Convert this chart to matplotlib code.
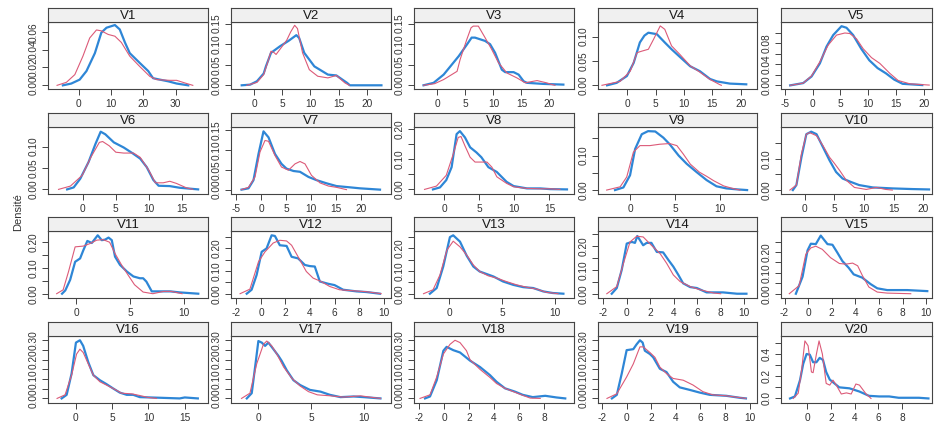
import matplotlib
matplotlib.use("Agg")
import matplotlib.pyplot as plt
import numpy as np

plt.rcParams['font.family'] = ['Liberation Sans', 'DejaVu Sans']

# ---------------- data: (x, density) pairs ----------------
v1_blue = [(-4.9,0),(-2.3,0.002),(0.3,0.0064),(2.4,0.016),(5.0,0.036),(7.0,0.059),(8.6,0.0645),(11.2,0.0675),(12.7,0.0626),(14.3,0.048),(15.8,0.036),(18.9,0.025),(21.5,0.016),(23.0,0.008),(25.1,0.0064),(27.7,0.0045),(30.3,0.002),(33.9,0)]
v1_red = [(-6.7,0),(-3.8,0.0034),(-1.2,0.012),(1.3,0.0326),(3.4,0.053),(5.5,0.062),(7.0,0.061),(9.1,0.057),(11.2,0.055),(13.2,0.048),(15.8,0.0326),(18.9,0.021),(22.0,0.010),(24.1,0.0064),(28.2,0.0056),(30.3,0.0056),(32.9,0.0026),(35.3,0)]

v2_blue = [(-2.2,0),(-0.7,0.0016),(0.5,0.0098),(1.7,0.0286),(2.1,0.046),(3.0,0.079),(4.6,0.095),(6.1,0.108),(7.5,0.122),(8.0,0.115),(8.9,0.079),(10.7,0.046),(13.1,0.026),(14.6,0.024),(16.5,0.006),(17.0,0),(22.6,0)]
v2_red = [(-1.3,0),(0.5,0.007),(1.7,0.026),(2.5,0.06),(3.0,0.083),(3.5,0.08),(3.9,0.075),(5.0,0.095),(5.8,0.11),(6.5,0.13),(7.2,0.146),(7.7,0.138),(8.6,0.079),(9.8,0.038),(11.3,0.022),(13.1,0.018),(14.6,0.024),(16.1,0.006),(16.9,0)]

v3_blue = [(-2.5,0),(-0.7,0.006),(1.1,0.026),(2.3,0.046),(3.8,0.071),(5.3,0.1),(6.1,0.116),(6.7,0.116),(8.5,0.108),(9.4,0.10),(10.3,0.079),(11.5,0.038),(12.1,0.032),(13.6,0.032),(14.5,0.026),(15.4,0.0098),(16.0,0.006),(18.9,0.0034),(22.5,0.0017)]
v3_red = [(-2.5,0),(-0.5,0.004),(1.1,0.014),(3.5,0.034),(4.05,0.063),(5.25,0.112),(6.0,0.14),(6.4,0.144),(7.3,0.144),(8.5,0.116),(9.7,0.087),(10.9,0.055),(12.4,0.030),(14.2,0.018),(15.7,0.006),(16.8,0.009),(17.8,0.0115),(19.5,0.006),(20.4,0.002),(21.0,0)]

v4_blue = [(-3.6,0),(-1.9,0.005),(-0.1,0.019),(1.1,0.046),(2.2,0.088),(3.0,0.102),(3.7,0.108),(5.2,0.105),(6.6,0.088),(7.8,0.074),(9.3,0.058),(11.1,0.039),(12.8,0.029),(14.6,0.013),(15.8,0.008),(18.1,0.0035),(21.0,0.002)]
v4_red = [(-4.5,0),(-1.3,0.008),(0.5,0.029),(1.7,0.067),(2.5,0.07),(3.7,0.074),(4.6,0.094),(5.8,0.122),(6.6,0.115),(7.8,0.081),(9.3,0.063),(11.1,0.04),(12.8,0.027),(14.6,0.012),(16.3,0.0015),(16.6,0)]

v5_blue = [(-4.05,0),(-1.7,0.0044),(-0.2,0.017),(1.3,0.042),(2.5,0.074),(3.7,0.096),(5.2,0.113),(6.1,0.110),(7.3,0.096),(8.75,0.070),(10.2,0.048),(11.7,0.033),(13.2,0.023),(14.7,0.011),(16.2,0.003),(19.75,0.0006)]
v5_red = [(-4.05,0),(-1.7,0.0044),(-0.2,0.018),(1.3,0.045),(2.8,0.077),(4.3,0.096),(5.8,0.10),(6.7,0.099),(7.9,0.089),(9.1,0.070),(10.6,0.053),(12.1,0.042),(13.9,0.023),(15.4,0.0094),(17.5,0.003),(21.0,0.0006)]

v6_blue = [(-2.4,0),(-1.4,0.0046),(-0.4,0.025),(0.86,0.064),(1.9,0.106),(2.7,0.135),(3.4,0.129),(4.7,0.11),(6.2,0.098),(7.5,0.085),(8.7,0.072),(9.7,0.052),(10.7,0.022),(11.5,0.0085),(13.2,0.0077),(14.7,0.0038),(17.5,0)]
v6_red = [(-3.7,0),(-1.9,0.0077),(-0.1,0.033),(1.2,0.075),(2.5,0.11),(3.0,0.112),(4.0,0.102),(5.0,0.087),(6.2,0.085),(7.7,0.085),(8.7,0.075),(10.0,0.045),(11.0,0.0154),(12.2,0.0154),(13.2,0.019),(14.2,0.014),(15.7,0.0038),(16.7,0)]

v7_blue = [(-3.9,0),(-2.5,0.0033),(-1.5,0.024),(-0.5,0.090),(0.5,0.147),(1.5,0.132),(2.8,0.090),(4.1,0.065),(5.1,0.053),(6.5,0.047),(7.8,0.045),(9.5,0.032),(11.1,0.024),(13.1,0.016),(15.1,0.009),(17.8,0.0058),(19.8,0.0033),(23.8,0)]
v7_red = [(-3.9,0),(-2.5,0.0058),(-1.2,0.032),(-0.2,0.095),(0.8,0.124),(1.5,0.122),(2.8,0.086),(4.1,0.057),(5.5,0.049),(6.8,0.065),(7.8,0.071),(8.8,0.065),(10.1,0.036),(11.8,0.017),(13.5,0.009),(15.1,0.0058),(17.1,0)]

v8_blue = [(-1.6,0),(-0.6,0.0066),(0.3,0.031),(1.06,0.074),(1.77,0.184),(2.24,0.194),(2.96,0.173),(3.7,0.14),(4.6,0.123),(5.3,0.107),(6.3,0.074),(7.5,0.058),(8.9,0.025),(9.9,0.011),(11.8,0.0033),(13.7,0.0033),(15.1,0.001),(17.5,0)]
v8_red = [(-2.8,0),(-1.1,0.011),(0.3,0.047),(1.3,0.118),(2.0,0.173),(2.4,0.176),(2.96,0.145),(3.7,0.107),(4.4,0.091),(5.1,0.091),(6.1,0.091),(6.8,0.074),(7.5,0.042),(8.9,0.02),(9.9,0.0087),(11.8,0.0033),(13.7,0.002),(15.1,0.002),(16.5,0)]

v9_blue = [(-1.67,0),(-0.74,0.0076),(0.0,0.043),(0.56,0.119),(1.3,0.162),(2.0,0.171),(2.8,0.170),(3.7,0.152),(4.4,0.133),(5.4,0.1),(6.3,0.076),(7.4,0.052),(8.5,0.029),(9.6,0.011),(10.7,0.0048),(11.9,0.002),(13.0,0)]
v9_red = [(-2.6,0),(-1.1,0.0095),(-0.37,0.038),(0.37,0.11),(1.1,0.129),(2.2,0.129),(3.3,0.133),(4.4,0.135),(5.2,0.129),(5.9,0.105),(6.7,0.075),(7.7,0.052),(8.5,0.04),(9.3,0.027),(10.4,0.012),(11.5,0.004),(12.2,0)]

v10_blue = [(-2.0,0),(-1.4,0.016),(-0.55,0.105),(0.28,0.179),(1.1,0.187),(2.0,0.179),(3.1,0.137),(4.2,0.095),(5.3,0.058),(6.4,0.037),(7.8,0.026),(9.2,0.016),(11.5,0.0084),(14.8,0.0053),(18.2,0.0032),(21.0,0.002)]
v10_red = [(-2.5,0),(-1.4,0.016),(-0.55,0.116),(0.28,0.179),(0.84,0.184),(2.0,0.174),(3.1,0.142),(4.2,0.105),(5.0,0.086),(5.9,0.063),(7.0,0.032),(8.4,0.0084),(10.4,0.002),(12.1,0.0084),(13.7,0.002),(14.8,0)]

v11_blue = [(-1.3,0),(-1.0,0.0128),(-0.55,0.054),(-0.09,0.124),(0.37,0.137),(0.67,0.169),(1.04,0.205),(1.45,0.197),(2.0,0.227),(2.37,0.208),(2.68,0.21),(3.0,0.218),(3.3,0.208),(3.6,0.144),(4.06,0.112),(4.7,0.086),(5.3,0.067),(5.9,0.06),(6.2,0.06),(6.5,0.047),(7.0,0.009),(7.76,0.009),(8.7,0.009),(9.6,0.005),(11.3,0)]
v11_red = [(-1.8,0),(-1.2,0.015),(-0.7,0.086),(-0.09,0.182),(0.67,0.185),(1.3,0.195),(1.9,0.208),(2.5,0.21),(3.1,0.2),(3.6,0.156),(4.2,0.112),(4.8,0.073),(5.4,0.035),(6.2,0.0064),(7.1,0),(8.1,0.009),(8.8,0.009),(9.8,0)]

v12_blue = [(-1.16,0),(-0.76,0.0175),(-0.35,0.083),(0.06,0.185),(0.46,0.2),(0.87,0.258),(1.14,0.255),(1.54,0.214),(2.09,0.211),(2.5,0.163),(3.03,0.156),(3.58,0.127),(3.98,0.122),(4.39,0.12),(4.8,0.054),(5.47,0.044),(6.0,0.038),(6.7,0.0175),(7.8,0.0102),(8.6,0.0073),(9.7,0)]
v12_red = [(-1.7,0),(-0.9,0.02),(-0.2,0.141),(0.33,0.185),(1.0,0.224),(1.54,0.236),(2.09,0.233),(2.5,0.214),(3.03,0.163),(3.7,0.098),(4.25,0.069),(4.9,0.054),(5.6,0.032),(6.4,0.0175),(7.5,0.013),(8.6,0.0087),(9.8,0)]

v13_blue = [(-1.8,0),(-1.16,0.025),(-0.54,0.12),(0.09,0.25),(0.4,0.258),(1.04,0.23),(1.67,0.168),(2.3,0.12),(2.9,0.098),(3.55,0.087),(4.2,0.076),(5.1,0.054),(6.07,0.039),(7.0,0.029),(7.95,0.025),(8.9,0.01),(9.8,0.003),(10.8,0)]
v13_red = [(-2.4,0),(-1.5,0.0175),(-0.85,0.083),(-0.2,0.192),(0.4,0.232),(1.04,0.207),(1.67,0.171),(2.3,0.127),(2.9,0.098),(3.7,0.079),(4.5,0.069),(5.4,0.054),(6.4,0.039),(7.3,0.029),(8.3,0.02),(9.2,0.006),(10.3,0)]

v14_blue = [(-1.28,0),(-0.85,0.024),(-0.43,0.1),(0.0,0.211),(0.43,0.218),(0.7,0.214),(0.9,0.243),(1.4,0.204),(1.7,0.214),(2.1,0.214),(2.56,0.176),(3.1,0.174),(3.55,0.142),(3.97,0.114),(4.4,0.079),(4.8,0.044),(5.4,0.028),(5.97,0.024),(6.8,0.0056),(8.2,0.0056),(9.4,0),(10.2,0)]
v14_red = [(-1.7,0),(-0.85,0.03),(-0.28,0.128),(0.28,0.218),(0.85,0.242),(1.4,0.239),(2.1,0.204),(2.84,0.169),(3.4,0.128),(3.97,0.079),(4.55,0.051),(5.4,0.03),(6.25,0.0167),(7.4,0.003),(8.0,0)]

v15_blue = [(-1.04,0),(-0.47,0.082),(-0.05,0.208),(0.23,0.24),(0.65,0.238),(1.07,0.279),(1.64,0.238),(2.06,0.235),(2.48,0.197),(2.9,0.157),(3.43,0.125),(3.86,0.093),(4.59,0.077),(5.3,0.046),(5.86,0.026),(6.7,0.0175),(8.4,0.0175),(10.1,0.0125)]
v15_red = [(-1.6,0),(-0.76,0.039),(-0.2,0.189),(0.23,0.22),(0.65,0.228),(1.2,0.213),(1.9,0.173),(2.65,0.145),(3.2,0.142),(3.77,0.147),(4.2,0.134),(4.6,0.087),(5.15,0.032),(5.86,0.008),(6.7,0.003),(8.7,0)]

v16_blue = [(-1.97,0),(-1.28,0.0185),(-0.6,0.128),(0.0,0.288),(0.55,0.30),(1.0,0.271),(1.7,0.187),(2.4,0.12),(3.3,0.094),(4.2,0.074),(5.1,0.052),(6.05,0.03),(7.0,0.0185),(7.9,0.0185),(8.8,0.0067),(11.6,0.0034),(14.3,0),(15.0,0.005),(16.8,0)]
v16_red = [(-2.6,0),(-1.5,0.0185),(-0.6,0.12),(0.09,0.229),(0.55,0.254),(1.0,0.237),(1.7,0.178),(2.4,0.12),(3.3,0.086),(4.2,0.069),(5.1,0.052),(6.3,0.027),(7.7,0.0236),(8.8,0.015),(9.95,0.005),(11.1,0)]

v17_blue = [(-1.1,0),(-0.63,0.027),(-0.31,0.162),(0.0,0.296),(0.32,0.288),(0.64,0.271),(0.95,0.288),(1.43,0.254),(1.9,0.22),(2.2,0.195),(2.7,0.145),(3.33,0.094),(3.97,0.069),(4.9,0.044),(5.9,0.035),(6.8,0.0185),(7.8,0.0067),(9.05,0.01),(10.0,0.0067),(11.6,0)]
v17_red = [(-1.6,0),(-0.8,0.027),(-0.16,0.178),(0.48,0.279),(0.8,0.296),(1.27,0.271),(1.75,0.229),(2.4,0.162),(3.2,0.103),(3.97,0.064),(4.76,0.035),(5.6,0.0185),(6.8,0.0135),(8.1,0.0067),(9.7,0.0135),(10.6,0.0067),(11.6,0)]

v18_blue = [(-1.52,0),(-1.12,0.01),(-0.58,0.094),(-0.05,0.246),(0.21,0.266),(0.74,0.249),(1.28,0.237),(2.08,0.195),(2.88,0.162),(3.68,0.12),(4.2,0.086),(4.88,0.052),(5.68,0.035),(6.3,0.0185),(7.1,0.0067),(8.1,0.0135),(9.0,0.005),(9.7,0)]
v18_red = [(-1.92,0),(-1.12,0.0185),(-0.58,0.111),(-0.05,0.229),(0.48,0.279),(0.88,0.30),(1.28,0.288),(1.8,0.246),(2.08,0.2),(2.88,0.15),(3.68,0.108),(4.2,0.077),(4.88,0.052),(5.55,0.035),(6.2,0.0185),(6.9,0.0017),(7.7,0)]

v19_blue = [(-1.2,0),(-0.8,0.0185),(-0.4,0.128),(0.0,0.249),(0.54,0.254),(0.81,0.279),(1.08,0.30),(1.3,0.288),(1.48,0.246),(1.89,0.229),(2.16,0.212),(2.7,0.153),(3.24,0.136),(3.78,0.086),(4.32,0.057),(5.13,0.044),(5.95,0.03),(6.76,0.0185),(8.1,0.0135),(9.2,0.0034),(9.7,0)]
v19_red = [(-1.6,0),(-0.8,0.024),(0.0,0.111),(0.54,0.178),(1.08,0.266),(1.35,0.266),(1.89,0.237),(2.3,0.212),(2.7,0.162),(3.24,0.128),(3.78,0.103),(4.6,0.094),(5.4,0.069),(6.2,0.035),(7.0,0.0185),(8.1,0.0135),(8.9,0.0067),(9.7,0)]

v20_blue = [(-1.44,0),(-1.03,0.018),(-0.6,0.165),(-0.33,0.312),(-0.05,0.4),(0.22,0.394),(0.5,0.326),(0.78,0.326),(1.05,0.365),(1.33,0.347),(1.6,0.238),(1.9,0.17),(2.3,0.135),(2.7,0.1),(3.56,0.091),(4.4,0.062),(5.2,0.0235),(6.06,0.018),(6.9,0.018),(7.7,0.006),(9.4,0.006),(10.2,0)]
v20_red = [(-1.17,0),(-0.75,0.047),(-0.47,0.253),(-0.19,0.518),(0.08,0.474),(0.36,0.238),(0.5,0.232),(0.78,0.4),(1.0,0.518),(1.28,0.4),(1.6,0.135),(1.9,0.12),(2.17,0.165),(2.45,0.12),(2.87,0.04),(3.3,0.05),(3.7,0.04),(4.1,0.13),(4.4,0.12),(4.95,0.041),(5.37,0)]

panel_names = ["V%d" % i for i in range(1, 21)]
blue_series = [v1_blue, v2_blue, v3_blue, v4_blue, v5_blue, v6_blue, v7_blue, v8_blue, v9_blue, v10_blue,
               v11_blue, v12_blue, v13_blue, v14_blue, v15_blue, v16_blue, v17_blue, v18_blue, v19_blue, v20_blue]
red_series = [v1_red, v2_red, v3_red, v4_red, v5_red, v6_red, v7_red, v8_red, v9_red, v10_red,
              v11_red, v12_red, v13_red, v14_red, v15_red, v16_red, v17_red, v18_red, v19_red, v20_red]

# ---------------- axis settings per panel ----------------
xlims = [(-9.5, 40), (-4.1, 24.3), (-4.2, 24.4), (-5.2, 22.9), (-5.7, 21.5),
         (-5.3, 19), (-6, 26), (-4.3, 18.5), (-3.56, 14.1), (-4, 21.5),
         (-2.6, 12.2), (-2.44, 10.6), (-3.3, 11.8), (-2.45, 11.1), (-2.3, 10.5),
         (-3.85, 18.2), (-2.6, 12.6), (-2.4, 10.4), (-2.33, 10.6), (-2.2, 10.5)]
xticks = [[0, 10, 20, 30], [0, 5, 10, 15, 20], [0, 5, 10, 15, 20], [0, 5, 10, 15, 20], [-5, 0, 5, 10, 15, 20],
          [0, 5, 10, 15], [-5, 0, 5, 10, 15, 20], [0, 5, 10, 15], [0, 5, 10], [0, 5, 10, 15, 20],
          [0, 5, 10], [-2, 0, 2, 4, 6, 8, 10], [0, 5, 10], [-2, 0, 2, 4, 6, 8, 10], [-2, 0, 2, 4, 6, 8, 10],
          [0, 5, 10, 15], [0, 5, 10], [-2, 0, 2, 4, 6, 8], [-2, 0, 2, 4, 6, 8, 10], [0, 2, 4, 6, 8]]
ylims = [(-0.0041, 0.0709), (-0.009, 0.154), (-0.009, 0.154), (-0.0076, 0.130), (-0.0069, 0.121),
         (-0.0108, 0.146), (-0.011, 0.158), (-0.0153, 0.2077), (-0.0114, 0.183), (-0.0126, 0.202),
         (-0.0167, 0.2436), (-0.019, 0.277), (-0.019, 0.277), (-0.018, 0.264), (-0.0205, 0.301),
         (-0.0236, 0.322), (-0.0236, 0.322), (-0.0236, 0.322), (-0.0236, 0.322), (-0.041, 0.562)]
# (tick step, max tick, label every n ticks, decimals)
yspec = [(0.02, 0.06, 1, 2), (0.05, 0.15, 1, 2), (0.05, 0.15, 1, 2), (0.05, 0.10, 1, 2), (0.02, 0.10, 2, 2),
         (0.05, 0.10, 1, 2), (0.05, 0.15, 1, 2), (0.05, 0.20, 2, 2), (0.05, 0.15, 2, 2), (0.05, 0.15, 2, 2),
         (0.05, 0.20, 2, 2), (0.05, 0.25, 2, 2), (0.05, 0.25, 2, 2), (0.05, 0.25, 2, 2), (0.05, 0.25, 2, 2),
         (0.05, 0.30, 2, 2), (0.05, 0.30, 2, 2), (0.05, 0.30, 2, 2), (0.05, 0.30, 2, 2), (0.1, 0.5, 2, 1)]

BLUE = "#2e86d6"
RED = "#dc5a78"
EDGE = "#444444"

W, H = 934, 425
fig = plt.figure(figsize=(W / 100, H / 100), dpi=100)

col_left = [48, 231, 414, 598, 781]
col_right = [208, 391, 574, 757, 932]
row_bottom = [89, 194, 298, 403]
plot_h = 67
strip_h = 14

for i in range(20):
    r, c = divmod(i, 5)
    L, R, B = col_left[c], col_right[c], row_bottom[r]
    ax = fig.add_axes([L / W, 1 - B / H, (R - L) / W, plot_h / H])
    sx = fig.add_axes([L / W, 1 - (B - plot_h) / H, (R - L) / W, strip_h / H])
    sx.set_facecolor("#f0f0f0")
    sx.set_xticks([]); sx.set_yticks([])
    for s in sx.spines.values():
        s.set_color(EDGE); s.set_linewidth(0.8)
    sx.text(0.5, 0.45, panel_names[i], ha="center", va="center", fontsize=9.5,
            color="#1a1a1a", transform=sx.transAxes)

    bx, by = zip(*blue_series[i])
    rx, ry = zip(*red_series[i])
    ax.plot(bx, by, color=BLUE, lw=1.6, solid_joinstyle="round", zorder=2)
    ax.plot(rx, ry, color=RED, lw=0.8, zorder=3)

    ax.set_xlim(*xlims[i]); ax.set_ylim(*ylims[i])
    ax.set_xticks(xticks[i])
    ax.set_xticklabels([str(t) for t in xticks[i]])
    step, top, every, dec = yspec[i]
    n = int(round(top / step))
    yt = [k * step for k in range(n + 1)]
    ax.set_yticks(yt)
    ax.set_yticklabels([("%.*f" % (dec, v)) if k % every == 0 else "" for k, v in enumerate(yt)])
    for s in ax.spines.values():
        s.set_color(EDGE); s.set_linewidth(0.8)
    ax.tick_params(direction="out", length=4, width=0.7, color=EDGE, labelsize=7.3,
                   labelcolor="#333333", pad=3)
    for lab in ax.get_yticklabels():
        lab.set_rotation(90)
        lab.set_va("center")

fig.text(18 / W, 1 - 212 / H, "Densité", rotation=90, ha="center", va="center",
         fontsize=8, color="#333333")

fig.savefig("out.png", dpi=100)
